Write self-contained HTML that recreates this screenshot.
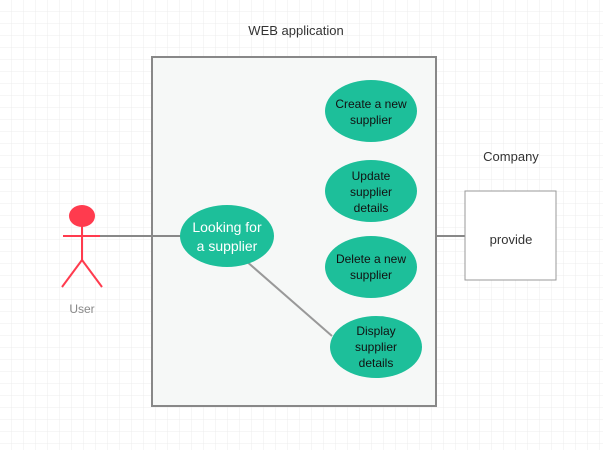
<!DOCTYPE html>
<html><head><style>body{margin:0}svg{display:block}</style></head><body>
<svg width="603" height="450" xmlns="http://www.w3.org/2000/svg" font-family="Liberation Sans, sans-serif">
<defs><pattern id="g" width="12" height="12" patternUnits="userSpaceOnUse"><path d="M12 0V12H0" fill="none" stroke="#ececec" stroke-width="1"/></pattern></defs>
<rect width="603" height="450" fill="#fff"/>
<rect width="603" height="450" fill="url(#g)"/>
<text x="296" y="35" font-size="13" text-anchor="middle" fill="#333">WEB application</text>
<rect x="152" y="57" width="284" height="349" fill="#f6f8f7" stroke="#888" stroke-width="2"/>
<line x1="436" y1="236" x2="465" y2="236" stroke="#888" stroke-width="2"/>
<rect x="465" y="191" width="91" height="89" fill="#fff" stroke="#999" stroke-width="1"/>
<text x="511" y="244" font-size="13" text-anchor="middle" fill="#333">provide</text>
<text x="511" y="161" font-size="13" text-anchor="middle" fill="#333">Company</text>
<line x1="100" y1="236" x2="181" y2="236" stroke="#888" stroke-width="2"/>
<line x1="245" y1="260" x2="332" y2="336" stroke="#999" stroke-width="2"/>
<ellipse cx="82" cy="216" rx="13" ry="11" fill="#ff3b4e"/>
<g stroke="#ff3b4e" stroke-width="2" fill="none"><line x1="63" y1="236" x2="100" y2="236"/><line x1="82" y1="226" x2="82" y2="260"/><line x1="82" y1="260" x2="62" y2="287"/><line x1="82" y1="260" x2="102" y2="287"/></g>
<text x="82" y="313" font-size="12" text-anchor="middle" fill="#888">User</text>
<g fill="#1dbf9a">
<ellipse cx="227" cy="236" rx="47" ry="31"/>
<ellipse cx="371" cy="111" rx="46" ry="31"/>
<ellipse cx="371" cy="191" rx="46" ry="31"/>
<ellipse cx="371" cy="267" rx="46" ry="31"/>
<ellipse cx="376" cy="347" rx="46" ry="31"/>
</g>
<text font-size="14" fill="#fff" text-anchor="middle"><tspan x="227" y="232">Looking for</tspan><tspan x="227" y="251">a supplier</tspan></text>
<g font-size="12" fill="#111" text-anchor="middle">
<text><tspan x="371" y="108">Create a new</tspan><tspan x="371" y="124">supplier</tspan></text>
<text><tspan x="371" y="180">Update</tspan><tspan x="371" y="196">supplier</tspan><tspan x="371" y="212">details</tspan></text>
<text><tspan x="371" y="263">Delete a new</tspan><tspan x="371" y="279">supplier</tspan></text>
<text><tspan x="376" y="335">Display</tspan><tspan x="376" y="351">supplier</tspan><tspan x="376" y="367">details</tspan></text>
</g>
</svg>
</body></html>
